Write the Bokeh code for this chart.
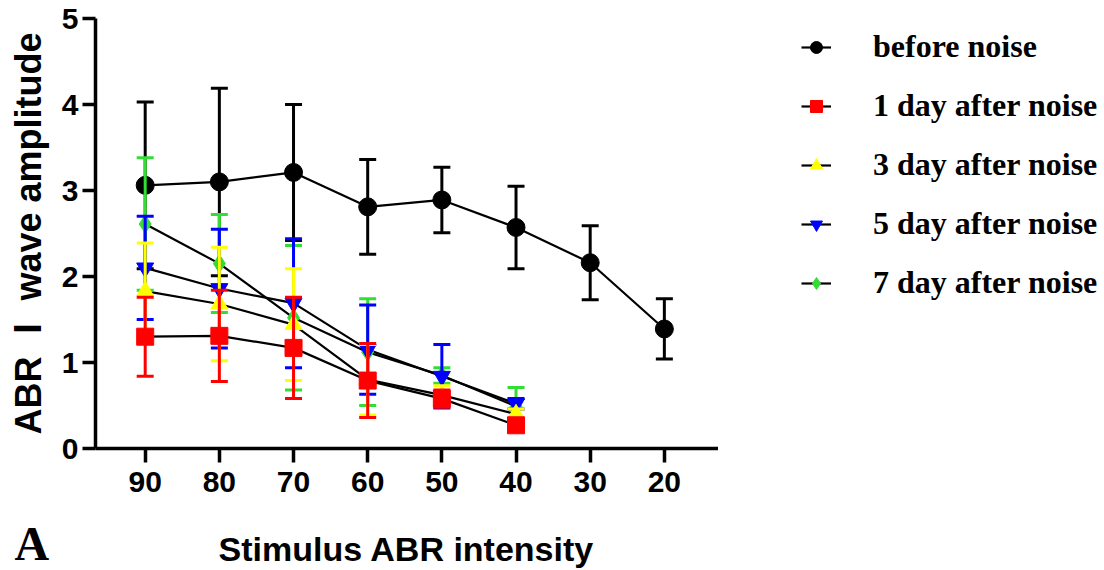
from bokeh.plotting import figure
from bokeh.layouts import column, row
from bokeh.models import Range1d, FixedTicker, Legend, LegendItem, Label
from bokeh.embed import file_html
from bokeh.resources import INLINE

# ---- data ----
intensity = [90, 80, 70, 60, 50, 40, 30, 20]
intensity_short = [90, 80, 70, 60, 50, 40]
y_ticks = [0, 1, 2, 3, 4, 5]

before_mean = [3.06, 3.10, 3.21, 2.81, 2.89, 2.57, 2.16, 1.39]
before_err = [0.97, 1.09, 0.79, 0.55, 0.38, 0.48, 0.43, 0.35]

day1_mean = [1.30, 1.31, 1.17, 0.79, 0.58, 0.27]
day1_err = [0.46, 0.53, 0.59, 0.43, 0.10, 0.05]

day3_mean = [1.83, 1.68, 1.44, 0.80, 0.62, 0.40]
day3_err = [0.56, 0.66, 0.65, 0.41, 0.11, 0.06]

day5_mean = [2.10, 1.86, 1.69, 1.15, 0.84, 0.52]
day5_err = [0.60, 0.69, 0.75, 0.52, 0.37, 0.06]

day7_mean = [2.61, 2.15, 1.52, 1.12, 0.85, 0.49]
day7_err = [0.77, 0.57, 0.84, 0.62, 0.09, 0.22]

labels = ["before noise", "1 day after noise", "3 day after noise",
          "5 day after noise", "7 day after noise"]
colors = ["#000000", "#FF0000", "#FFFF00", "#0000FF", "#33DD33"]
markers = ["circle", "square", "triangle", "inverted_triangle", "diamond"]
sizes = [18, 17, 17, 17, 18]

x_title = "Stimulus ABR intensity"
y_title = "ABR \u2160 wave amplitude"
panel_letter = "A"

series = [
    (intensity, before_mean, before_err),
    (intensity_short, day1_mean, day1_err),
    (intensity_short, day3_mean, day3_err),
    (intensity_short, day5_mean, day5_err),
    (intensity_short, day7_mean, day7_err),
]

sans = "Liberation Sans"
serif = "Liberation Serif"

# ---------------- main plot ----------------
p = figure(width=718, height=516, output_backend="svg", toolbar_location=None,
           x_range=Range1d(96.7, 12.7), y_range=Range1d(0, 5),
           min_border_left=95, min_border_right=0, min_border_top=18,
           min_border_bottom=68)
p.outline_line_color = None
p.grid.visible = False
p.border_fill_color = "white"

for ax in (p.xaxis[0], p.yaxis[0]):
    ax.axis_line_width = 3.5
    ax.major_tick_line_width = 3.5
    ax.major_tick_in = 0
    ax.minor_tick_line_color = None
    ax.major_label_text_font = sans
    ax.major_label_text_font_style = "bold"
    ax.major_label_text_color = "black"
    ax.major_label_text_font_size = "30px"
    ax.axis_label_text_font = "Liberation Sans, Noto Sans CJK SC"
    ax.axis_label_text_font_style = "bold"
    ax.axis_label_text_color = "black"

p.yaxis.axis_label_text_font_size = "36px"
p.xaxis.ticker = FixedTicker(ticks=intensity)
p.yaxis.ticker = FixedTicker(ticks=y_ticks)
p.xaxis.major_tick_out = 14
p.yaxis.major_tick_out = 13
p.xaxis.major_label_standoff = 9
p.yaxis.major_label_standoff = 4
p.yaxis.axis_label = y_title
p.yaxis.axis_label_standoff = 10

line_rs = []
for (xs, m, e) in series:
    line_rs.append(p.line(xs, m, line_color="black", line_width=2.2))

for i in [0, 4, 3, 2, 1]:
    xs, m, e = series[i]
    lo = [a - b for a, b in zip(m, e)]
    hi = [a + b for a, b in zip(m, e)]
    p.segment(x0=xs, y0=lo, x1=xs, y1=hi, line_color=colors[i], line_width=3)
    p.scatter(xs, hi, marker="dash", size=17, line_color=colors[i], line_width=3)
    p.scatter(xs, lo, marker="dash", size=17, line_color=colors[i], line_width=3)
    p.scatter(xs, m, marker=markers[i], size=sizes[i],
              fill_color=colors[i], line_color=colors[i], line_width=1)

# ---------------- legend panel ----------------
lg = figure(width=386, height=516, output_backend="svg", toolbar_location=None,
            x_range=Range1d(0, 1), y_range=Range1d(0, 1),
            x_axis_type=None, y_axis_type=None,
            min_border_left=73, min_border_right=0, min_border_top=18,
            min_border_bottom=68)
lg.outline_line_color = None
lg.grid.visible = False

items = []
for i in range(5):
    # proxy renderers kept outside the visible range; they only feed the legend
    lr = lg.line(x=[5, 6], y=[5, 5], line_color="black", line_width=2.2)
    sr = lg.scatter(x=[5], y=[5], marker=markers[i], size=sizes[i],
                    fill_color=colors[i], line_color=colors[i])
    items.append(LegendItem(label=labels[i], renderers=[lr, sr]))

legend = Legend(items=items, location="top_left")
legend.label_text_font = serif
legend.label_text_font_style = "bold"
legend.label_text_font_size = "32px"
legend.label_text_color = "black"
legend.glyph_width = 30
legend.glyph_height = 34
legend.label_height = 34
legend.label_standoff = 42
legend.spacing = 22
legend.padding = 0
legend.margin = 10
legend.border_line_color = None
legend.background_fill_alpha = 0
lg.add_layout(legend)

# ---------------- bottom strip (panel letter + x title) ----------------
st = figure(width=1104, height=54, output_backend="svg", toolbar_location=None,
            x_range=Range1d(0, 1104), y_range=Range1d(0, 54),
            x_axis_type=None, y_axis_type=None,
            min_border_left=0, min_border_right=0, min_border_top=0,
            min_border_bottom=0)
st.outline_line_color = None
st.grid.visible = False

st.add_layout(Label(x=14, y=27, text=panel_letter, text_font=serif,
                    text_font_style="bold", text_font_size="48px",
                    text_color="black", text_baseline="middle"))
st.add_layout(Label(x=406, y=22, text=x_title, text_font=sans,
                    text_font_style="bold", text_font_size="34px",
                    text_color="black", text_align="center",
                    text_baseline="middle"))

layout = column(row(p, lg), st)
open("out.html", "w").write(file_html(layout, INLINE))
